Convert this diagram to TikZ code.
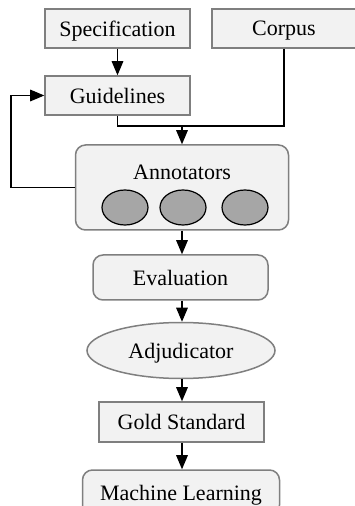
\documentclass[tikz,border=0pt]{standalone}
\usepackage{fontspec}
\setmainfont{Liberation Serif}
\usepackage{tikz}
\usetikzlibrary{arrows}
\usetikzlibrary{shapes.geometric}
\definecolor{boxfill}{HTML}{F2F2F2}
\definecolor{boxline}{HTML}{7F7F7F}
\definecolor{dotfill}{HTML}{A6A6A6}

\begin{document}
\begin{tikzpicture}[x=0.5pt,y=-0.5pt,
    font=\fontsize{11}{13}\selectfont,
    box/.style={draw=boxline,line width=0.75pt,fill=boxfill,inner sep=0pt,text depth=0pt},
    roundbox/.style={box,rounded corners=5pt},
    annot/.style={draw=black,line width=0.6pt,fill=dotfill,ellipse,inner sep=0pt,
      minimum width=23pt,minimum height=17.5pt},
    flow/.style={line width=0.6pt},
    >=triangle 45]
    \useasboundingbox (0,0) rectangle (354,506);
    \node[box,minimum width=72.5pt,minimum height=19.5pt] (spec) at (117.5,28.5) {Specification};
    \node[box,minimum width=72pt,minimum height=19.5pt] (corpus) at (284,28.5) {Corpus};
    \node[box,minimum width=72.5pt,minimum height=19.5pt] (guide) at (117.5,95.5) {Guidelines};
    %
    \node[roundbox,minimum width=106.5pt,minimum height=42.5pt] (annotators) at (182,187.5) {};
    \node (annotlabel) at (182,172) {Annotators};
    \node[annot] (ann1) at (125,207.5) {};
    \node[annot] (ann2) at (183,207.5) {};
    \node[annot] (ann3) at (245,207.5) {};
    %
    \node[roundbox,minimum width=87.5pt,minimum height=22.5pt] (eval) at (180.5,277.5) {Evaluation};
    \node[box,ellipse,minimum width=94pt,minimum height=28pt] (adj) at (181,350.5) {Adjudicator};
    \node[box,minimum width=82.5pt,minimum height=20pt] (gold) at (181.5,422) {Gold Standard};
    \node[roundbox,minimum width=98.5pt,minimum height=22.5pt] (ml) at (181,492.5) {Machine Learning};
    %
    \coordinate (join) at (182,126);
    \coordinate (back) at (11,0);
    \draw[flow,->] (spec) to (guide);
    \draw[flow] (guide.south) |- (join);
    \draw[flow] (corpus.south) |- (join);
    \draw[flow,->] (join) to (annotators.north -| join);
    \draw[flow,->] (annotators.west) -- (annotators.west -| back) |- (guide.west);
    \draw[flow,->] (annotators.south -| join) to (eval.north -| join);
    \draw[flow,->] (eval.south -| join) to (adj.north -| join);
    \draw[flow,->] (adj.south -| join) to (gold.north -| join);
    \draw[flow,->] (gold.south -| join) to (ml.north -| join);
  \end{tikzpicture}
\end{document}
